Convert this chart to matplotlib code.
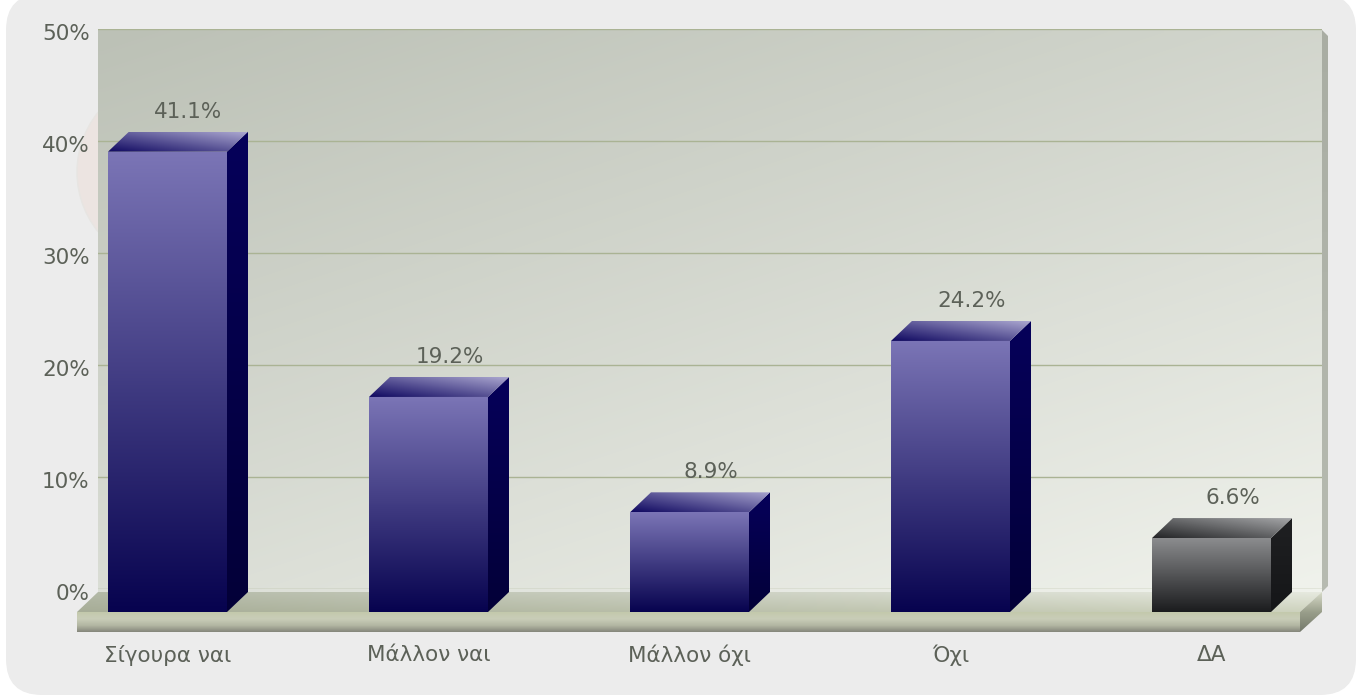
import numpy as np
import matplotlib
matplotlib.use("Agg")
import matplotlib.pyplot as plt
from matplotlib.patches import FancyBboxPatch, Polygon, Circle
from matplotlib.colors import LinearSegmentedColormap as LSC, to_rgb
from matplotlib.transforms import ScaledTranslation

categories = ["Σίγουρα ναι", "Μάλλον ναι", "Μάλλον όχι", "Όχι", "ΔΑ"]
values = [41.1, 19.2, 8.9, 24.2, 6.6]
value_labels = ["41.1%", "19.2%", "8.9%", "24.2%", "6.6%"]
y_ticks = [0, 10, 20, 30, 40, 50]
y_tick_labels = ["0%", "10%", "20%", "30%", "40%", "50%"]
bar_styles = ["navy", "navy", "navy", "navy", "gray"]

W, H = 1362, 697
TXT = "#5c6158"
FS = 15.5
plt.rcParams["font.family"] = ["DejaVu Sans"]
fig = plt.figure(figsize=(W / 100, H / 100), dpi=100, facecolor="white")

# ---------- decorative backdrop, in pixel coordinates ----------
bg = fig.add_axes([0, 0, 1, 1])
bg.set_xlim(0, W); bg.set_ylim(H, 0); bg.axis("off")


def clip_image(ax, im, poly):
    patch = Polygon(poly, closed=True, transform=ax.transData, fc="none", ec="none")
    ax.add_patch(patch)
    im.set_clip_box(fig.bbox)
    im.set_clip_path(patch)


def grad(ax, poly, cols, mode="v", z=1, wx=0.5):
    """Fill polygon with a gradient. v: first colour on top; a: dark bottom-left to light top-right; d: diagonal."""
    p = np.array(poly)
    x0, x1, y0, y1 = p[:, 0].min(), p[:, 0].max(), p[:, 1].min(), p[:, 1].max()
    yy, xx = np.mgrid[0:1:128j, 0:1:128j]
    if mode == "v":
        g = yy
    elif mode == "d":
        g = wx * xx + (1 - wx) * yy
    else:
        g = wx * xx + (1 - wx) * (1 - yy)
    cm = LSC.from_list("g", cols)
    extent = (x0, x1, y1, y0) if ax is bg else (x0, x1, y0, y1)
    im = ax.imshow(g, cmap=cm, vmin=0, vmax=1, extent=extent, origin="upper",
                   aspect="auto", zorder=z, interpolation="bilinear")
    clip_image(ax, im, poly)
    return im


def grad2d(ax, poly, tl, tr, bl, br, z=2):
    p = np.array(poly)
    x0, x1, y0, y1 = p[:, 0].min(), p[:, 0].max(), p[:, 1].min(), p[:, 1].max()
    yy, xx = np.mgrid[0:1:64j, 0:1:64j]
    tl, tr, bl, br = (np.array(to_rgb(c)) for c in (tl, tr, bl, br))
    xx, yy = xx[..., None], yy[..., None]
    rgb = (1 - yy) * ((1 - xx) * tl + xx * tr) + yy * ((1 - xx) * bl + xx * br)
    im = ax.imshow(rgb, extent=(x0, x1, y1, y0), origin="upper", aspect="auto", zorder=z,
                   interpolation="bilinear")
    clip_image(ax, im, poly)


bg.add_patch(FancyBboxPatch((6 + 36, -6 + 36), 1350 - 72, 701 - 72,
                            boxstyle="round,pad=36,rounding_size=36", fc="#ececec", ec="none", zorder=0))
bg.add_patch(Circle((172, 172), 95, fc="#ece4e1", ec="#e7e5e2", lw=1, zorder=0.5))
grad(bg, [(1322, 30), (1328, 36), (1328, 586), (1322, 592)], ["#a9ada3", "#b7bbb1"], "v", z=0.8)
grad(bg, [(98, 30), (1322, 30), (1322, 594), (98, 594)], ["#bcc1b6", "#f0f2ec"], "d", z=1, wx=0.42)
# floor
grad2d(bg, [(98, 592), (1322, 592), (1300, 612), (77, 612)], "#b3b9a7", "#e6e9df", "#a7ad97", "#cdd2bd")
grad(bg, [(77, 612), (1300, 612), (1300, 632), (77, 632)], ["#c3c9ac", "#c9cdb8", "#b3b7a3", "#84867b"], "v", z=2)
grad(bg, [(1300, 612), (1322, 592), (1322, 612), (1300, 632)], ["#d7dbc9", "#9a9f8b", "#73786a"], "v", z=2)
bg.set_xlim(0, W); bg.set_ylim(H, 0)

# ---------- data axes: the back wall ----------
PX_TOP, PX_ZERO, PX_L, PX_R = 29.0, 589.0, 98.0, 1322.0
ax = fig.add_axes([PX_L / W, 1 - PX_ZERO / H, (PX_R - PX_L) / W, (PX_ZERO - PX_TOP) / H])
ax.patch.set_alpha(0)
CENTER0, STEP = 167.5, 261.0
for s in ax.spines.values():
    s.set_visible(False)
ax.set_yticks(y_ticks, y_tick_labels)
ax.set_xticks(range(len(categories)), categories)
ax.tick_params(axis="y", length=0, pad=6, labelsize=FS, labelcolor=TXT)
ax.tick_params(axis="x", length=0, pad=40, labelsize=FS, labelcolor=TXT)
shift = ScaledTranslation(0, -3 / 100, fig.dpi_scale_trans)
for lab in ax.get_yticklabels():
    lab.set_transform(lab.get_transform() + shift)
ax.grid(axis="y", color="#aab394", lw=1.0, zorder=0.5)
ax.set_axisbelow(True)

pal = {
    "navy": dict(front=("#7b75b6", "#07034f"), top=("#0f0860", "#aba7d0"), side=("#06005a", "#030038")),
    "gray": dict(front=("#8b8c8e", "#1b1c1e"), top=("#232426", "#a5a6a8"), side=("#1f2022", "#151618")),
}
BW = 119.0 / STEP          # bar width, categories
DX = 21.0 / STEP           # 3D depth, categories
DY = 20.0 / 11.2           # 3D depth, percent
BASE = -23.0 / 11.2        # front plane baseline, percent

for i, (v, lab, st) in enumerate(zip(values, value_labels, bar_styles)):
    c = pal[st]
    l, r, b, t = i - BW / 2, i + BW / 2, BASE, BASE + v
    grad(ax, [(l, b), (r, b), (r, t), (l, t)], c["front"], "v", z=3)
    grad(ax, [(r, b), (r + DX, b + DY), (r + DX, t + DY), (r, t)], c["side"], "v", z=3)
    grad(ax, [(l, t), (r, t), (r + DX, t + DY), (l + DX, t + DY)], c["top"], "a", z=3)
    ax.annotate(lab, (i + DX, t + DY), xytext=(0, 20 * 0.72), textcoords="offset points",
                ha="center", va="center", fontsize=FS, color=TXT, zorder=5, annotation_clip=False)

ax.set_xlim((PX_L - CENTER0) / STEP, (PX_R - CENTER0) / STEP)
ax.set_ylim(0, 50)

fig.savefig("out.png", dpi=100)
